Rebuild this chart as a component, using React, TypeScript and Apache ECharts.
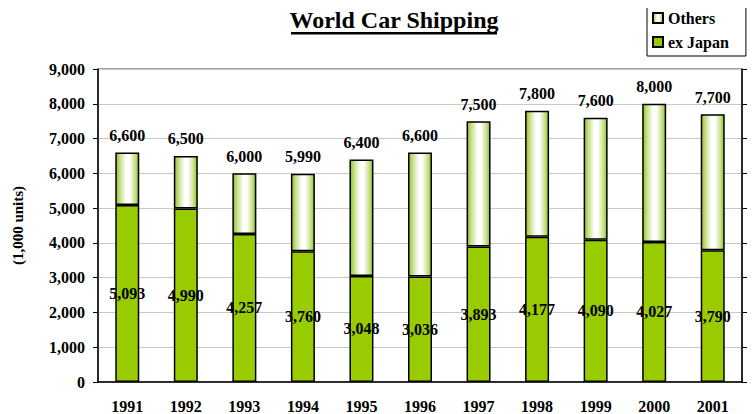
import React, { useEffect, useRef } from "react";
import * as echarts from "echarts";

const years = ["1991", "1992", "1993", "1994", "1995", "1996", "1997", "1998", "1999", "2000", "2001"];
const exJapan = [5093, 4990, 4257, 3760, 3048, 3036, 3893, 4177, 4090, 4027, 3790];
const totals = [6600, 6500, 6000, 5990, 6400, 6600, 7500, 7800, 7600, 8000, 7700];
const others = totals.map((t, i) => t - exJapan[i]);

const FONT = "'Liberation Serif', 'Times New Roman', serif";
const fmt = (v: number) => v.toLocaleString("en-US");

export default function App() {
  const ref = useRef<HTMLDivElement>(null);
  useEffect(() => {
    if (!ref.current) return;
    const chart = echarts.init(ref.current, null, { renderer: "svg" });
    const othersFill = new echarts.graphic.LinearGradient(0, 0, 1, 0, [
      { offset: 0, color: "#8fc01f" },
      { offset: 0.18, color: "#c6e08a" },
      { offset: 0.45, color: "#ffffff" },
      { offset: 0.6, color: "#ffffff" },
      { offset: 0.85, color: "#c6e08a" },
      { offset: 1, color: "#8fc01f" },
    ]);
    chart.setOption({
      animation: false,
      textStyle: { fontFamily: FONT },
      title: {
        text: "World Car Shipping",
        left: 389,
        textAlign: "center",
        top: 3,
        textStyle: { fontFamily: FONT, fontWeight: "bold", fontSize: 24, color: "#000" },
      },
      graphic: [
        { type: "rect", shape: { x: 291, y: 32, width: 206, height: 2.5 }, style: { fill: "#000" } },
      ],
      legend: {
        orient: "vertical",
        left: 647,
        top: 3,
        data: ["Others", "ex Japan"],
        borderColor: "#000",
        borderWidth: 1,
        padding: [7, 17, 6, 5],
        itemGap: 8,
        itemWidth: 10,
        itemHeight: 10,
        icon: "rect",
        textStyle: { fontFamily: FONT, fontWeight: "bold", fontSize: 16, color: "#000" },
      },
      grid: {
        left: 98,
        right: 13,
        top: 69,
        bottom: 31,
        show: true,
        borderColor: "#444",
        borderWidth: 1,
      },
      xAxis: {
        type: "category",
        data: years,
        axisLine: { lineStyle: { color: "#000", width: 1.5 } },
        axisTick: { inside: true, length: 5, lineStyle: { color: "#000" } },
        axisLabel: { fontFamily: FONT, fontWeight: "bold", fontSize: 16, color: "#000", margin: 16 },
      },
      yAxis: [
        {
          type: "value",
          min: 0,
          max: 9000,
          interval: 1000,
          name: "(1,000 units)",
          nameLocation: "middle",
          nameGap: 73,
          nameRotate: 90,
          nameTextStyle: { fontFamily: FONT, fontWeight: "bold", fontSize: 15, color: "#000" },
          axisLine: { show: true, lineStyle: { color: "#000", width: 1.5 } },
          axisTick: { show: true, length: 5, lineStyle: { color: "#000" } },
          axisLabel: {
            fontFamily: FONT,
            fontWeight: "bold",
            fontSize: 16,
            color: "#000",
            margin: 13,
            formatter: (v: number) => fmt(v),
          },
          splitLine: { lineStyle: { color: "#c8c8c8", width: 1 } },
        },
        {
          type: "value",
          min: 0,
          max: 9000,
          interval: 1000,
          position: "right",
          axisLine: { show: true, lineStyle: { color: "#000", width: 1.5 } },
          axisTick: { show: true, length: 5, lineStyle: { color: "#000" } },
          axisLabel: { show: false },
          splitLine: { show: false },
        },
      ],
      series: [
        {
          name: "ex Japan",
          type: "bar",
          stack: "total",
          data: exJapan,
          barWidth: 24,
          itemStyle: { color: "#99cc00", borderColor: "#000", borderWidth: 1.5 },
          label: {
            show: true,
            position: "inside",
            formatter: (p: any) => fmt(p.value),
            fontFamily: FONT,
            fontWeight: "bold",
            fontSize: 16,
            color: "#000",
          },
        },
        {
          name: "Others",
          type: "bar",
          stack: "total",
          data: others,
          barWidth: 24,
          itemStyle: { color: othersFill, borderColor: "#000", borderWidth: 1.5 },
          label: {
            show: true,
            position: "top",
            distance: 9,
            formatter: (p: any) => fmt(totals[p.dataIndex]),
            fontFamily: FONT,
            fontWeight: "bold",
            fontSize: 16,
            color: "#000",
          },
        },
      ],
    });
    return () => chart.dispose();
  }, []);
  return <div ref={ref} style={{ width: 755, height: 414, marginLeft: -8, marginTop: -8 }} />;
}
